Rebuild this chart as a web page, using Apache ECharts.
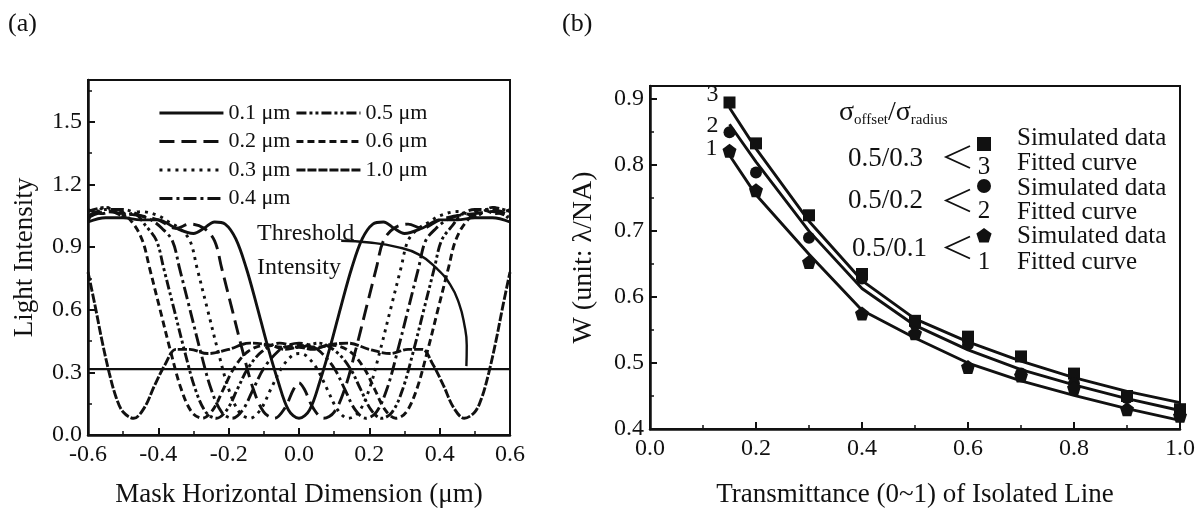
<!DOCTYPE html>
<html><head><meta charset="utf-8">
<script src="https://cdn.jsdelivr.net/npm/echarts@6/dist/echarts.min.js"></script>
<style>html,body{margin:0;padding:0;background:#fff}#c{width:1198px;height:513px}</style>
</head><body><div id="c"></div>
<script>
// ---------- Panel (a) data: light intensity vs position ----------
const names_a = ['0.1 μm','0.2 μm','0.3 μm','0.4 μm','0.5 μm','0.6 μm','1.0 μm'];
const c01 = [[-0.6,1.02],[-0.55,1.04],[-0.5,1.04],[-0.45,1.03],[-0.4,1.03],[-0.35,0.99],[-0.3,0.965],[-0.27,0.99],[-0.24,1.02],[-0.21,1.01],[-0.18,0.94],[-0.15,0.8],[-0.12,0.62],[-0.09,0.43],[-0.06,0.26],[-0.03,0.12],[0,0.08],[0.03,0.12],[0.06,0.26],[0.09,0.43],[0.12,0.62],[0.15,0.8],[0.18,0.94],[0.21,1.01],[0.24,1.02],[0.27,0.99],[0.3,0.965],[0.35,0.99],[0.4,1.03],[0.45,1.03],[0.5,1.04],[0.55,1.04],[0.6,1.02]];
const c02 = [[-0.6,1.04],[-0.55,1.07],[-0.5,1.06],[-0.45,1.05],[-0.4,1.03],[-0.35,0.99],[-0.31,1.01],[-0.27,0.99],[-0.24,0.93],[-0.22,0.8],[-0.19,0.6],[-0.16,0.4],[-0.13,0.22],[-0.1,0.11],[-0.07,0.08],[-0.04,0.13],[-0.015,0.22],[0,0.25],[0.015,0.22],[0.04,0.13],[0.07,0.08],[0.1,0.11],[0.13,0.22],[0.16,0.4],[0.19,0.6],[0.22,0.8],[0.24,0.93],[0.27,0.99],[0.31,1.01],[0.35,0.99],[0.4,1.03],[0.45,1.05],[0.5,1.06],[0.55,1.07],[0.6,1.04]];
const c03 = [[-0.6,1.03],[-0.55,1.09],[-0.5,1.05],[-0.45,1.07],[-0.4,1.05],[-0.37,1.02],[-0.34,0.99],[-0.31,0.93],[-0.29,0.8],[-0.26,0.6],[-0.23,0.4],[-0.2,0.22],[-0.17,0.11],[-0.14,0.08],[-0.11,0.12],[-0.08,0.22],[-0.05,0.32],[-0.02,0.38],[0,0.39],[0.02,0.38],[0.05,0.32],[0.08,0.22],[0.11,0.12],[0.14,0.08],[0.17,0.11],[0.2,0.22],[0.23,0.4],[0.26,0.6],[0.29,0.8],[0.31,0.93],[0.34,0.99],[0.37,1.02],[0.4,1.05],[0.45,1.07],[0.5,1.05],[0.55,1.09],[0.6,1.03]];
const c04 = [[-0.6,1.05],[-0.55,1.08],[-0.5,1.08],[-0.45,1.05],[-0.42,1.03],[-0.39,0.99],[-0.36,0.93],[-0.34,0.8],[-0.31,0.6],[-0.28,0.4],[-0.25,0.22],[-0.22,0.11],[-0.19,0.08],[-0.16,0.12],[-0.13,0.22],[-0.1,0.32],[-0.06,0.4],[-0.03,0.43],[0,0.44],[0.03,0.43],[0.06,0.4],[0.1,0.32],[0.13,0.22],[0.16,0.12],[0.19,0.08],[0.22,0.11],[0.25,0.22],[0.28,0.4],[0.31,0.6],[0.34,0.8],[0.36,0.93],[0.39,0.99],[0.42,1.03],[0.45,1.05],[0.5,1.08],[0.55,1.08],[0.6,1.05]];
const c05 = [[-0.6,1.07],[-0.55,1.09],[-0.5,1.05],[-0.47,1.06],[-0.435,1.0],[-0.405,0.93],[-0.385,0.8],[-0.355,0.6],[-0.325,0.4],[-0.295,0.22],[-0.265,0.11],[-0.235,0.08],[-0.205,0.12],[-0.175,0.22],[-0.145,0.32],[-0.105,0.4],[-0.055,0.44],[0,0.42],[0.055,0.44],[0.105,0.4],[0.145,0.32],[0.175,0.22],[0.205,0.12],[0.235,0.08],[0.265,0.11],[0.295,0.22],[0.325,0.4],[0.355,0.6],[0.385,0.8],[0.405,0.93],[0.435,1.0],[0.47,1.06],[0.5,1.05],[0.55,1.09],[0.6,1.07]];
const c06 = [[-0.6,1.08],[-0.56,1.06],[-0.52,1.08],[-0.475,1.02],[-0.445,0.93],[-0.425,0.8],[-0.395,0.6],[-0.365,0.4],[-0.335,0.22],[-0.305,0.11],[-0.275,0.08],[-0.245,0.12],[-0.215,0.22],[-0.185,0.32],[-0.145,0.4],[-0.095,0.43],[-0.05,0.42],[0,0.43],[0.05,0.42],[0.095,0.43],[0.145,0.4],[0.185,0.32],[0.215,0.22],[0.245,0.12],[0.275,0.08],[0.305,0.11],[0.335,0.22],[0.365,0.4],[0.395,0.6],[0.425,0.8],[0.445,0.93],[0.475,1.02],[0.52,1.08],[0.56,1.06],[0.6,1.08]];
const c10 = [[-0.6,0.78],[-0.58,0.62],[-0.56,0.45],[-0.54,0.3],[-0.52,0.18],[-0.5,0.11],[-0.47,0.08],[-0.44,0.13],[-0.41,0.24],[-0.38,0.34],[-0.35,0.41],[-0.31,0.41],[-0.26,0.39],[-0.2,0.41],[-0.14,0.44],[-0.08,0.43],[-0.04,0.41],[0,0.42],[0.04,0.41],[0.08,0.43],[0.14,0.44],[0.2,0.41],[0.26,0.39],[0.31,0.41],[0.35,0.41],[0.38,0.34],[0.41,0.24],[0.44,0.13],[0.47,0.08],[0.5,0.11],[0.52,0.18],[0.54,0.3],[0.56,0.45],[0.58,0.62],[0.6,0.78]];
const thresholdLevel = [[-0.6,0.315],[0.6,0.315]];
const thresholdCurve = [[0.12,0.93],[0.2,0.922],[0.28,0.9],[0.34,0.865],[0.39,0.8],[0.43,0.72],[0.455,0.63],[0.47,0.53],[0.477,0.43],[0.476,0.33]];

// ---------- Panel (b) data: W vs transmittance ----------
const bx   = [0.15,0.2,0.3,0.4,0.5,0.6,0.7,0.8,0.9,1.0];
const sim3 = [0.895,0.833,0.724,0.635,0.564,0.540,0.510,0.484,0.450,0.430];
const sim2 = [0.850,0.789,0.690,0.628,0.559,0.528,0.484,0.469,0.447,0.428];
const sim1 = [0.822,0.762,0.653,0.575,0.545,0.494,0.481,0.462,0.430,0.420];
const fit3 = [0.887,0.825,0.715,0.625,0.567,0.532,0.503,0.478,0.457,0.440];
const fit2 = [0.862,0.805,0.700,0.613,0.557,0.520,0.490,0.467,0.446,0.428];
const fit1 = [0.815,0.755,0.665,0.580,0.538,0.500,0.473,0.451,0.431,0.413];
const curveTags = ['3','2','1'];

// ---------- build ----------
const FONT = 'Liberation Serif';
const K = '#111';
const curvesA = [c01,c02,c03,c04,c05,c06,c10];
const dashA = ['solid',[15,7],[3,5],[13,4,3,4],[10,3,3,3,3,3],[7,4],[9,2]];
const pair = (xs, ys) => xs.map((x,i)=>[x, ys[i]]);
const pentagon = 'path://M0,-1L0.951,-0.309L0.588,0.809L-0.588,0.809L-0.951,-0.309Z';

function axisCommon(){
  return {
    axisLine:{show:true,onZero:false,lineStyle:{color:K,width:2.5}},
    axisTick:{show:true,inside:true,length:7,lineStyle:{color:K,width:2}},
    minorTick:{show:true,splitNumber:2,length:4,lineStyle:{color:K,width:1.5}},
    splitLine:{show:false},
    axisLabel:{color:K,fontFamily:FONT,fontSize:24},
    nameTextStyle:{color:K,fontFamily:FONT,fontSize:27}
  };
}
const onStep = (v, step, lo, hi) => {
  const r = v/step; return Math.abs(r-Math.round(r))<1e-6 && v>=lo-1e-9 && v<=hi+1e-9;
};

const series = [];
curvesA.forEach((c,i)=>{
  series.push({name:names_a[i],type:'line',xAxisIndex:0,yAxisIndex:0,data:c,symbol:'none',smooth:0.35,
    itemStyle:{color:K},lineStyle:{color:K,width:2.9,type:dashA[i]},silent:true,z:3});
});
series.push({type:'line',xAxisIndex:0,yAxisIndex:0,data:thresholdLevel,symbol:'none',lineStyle:{color:K,width:2.2},silent:true});
series.push({type:'line',xAxisIndex:0,yAxisIndex:0,data:thresholdCurve,symbol:'none',smooth:true,lineStyle:{color:K,width:2.4},silent:true});

const fits = [fit3,fit2,fit1], sims = [sim3,sim2,sim1];
const syms = ['rect','circle',pentagon], symSz = [12,12,14];
const tagOffset = [[0,-8],[0,-6],[0,-2]];
fits.forEach((f,i)=>{
  series.push({type:'line',xAxisIndex:1,yAxisIndex:1,data:pair(bx,f),symbol:'none',lineStyle:{color:K,width:2.9},silent:true});
});
sims.forEach((s,i)=>{
  const d = pair(bx,s).map((p,j)=> j===0 ? {value:p,label:{show:true,formatter:curveTags[i],position:'left',distance:5,offset:tagOffset[i],color:K,fontFamily:FONT,fontSize:24}} : p);
  series.push({type:'scatter',xAxisIndex:1,yAxisIndex:1,data:d,symbol:syms[i],symbolSize:symSz[i],itemStyle:{color:K,opacity:1},silent:true,z:4});
});

const legendCommon = {orient:'vertical',itemWidth:64,itemHeight:14,itemGap:6.5,padding:0,
  itemStyle:{opacity:0},lineStyle:{width:2.9},
  textStyle:{color:K,fontFamily:FONT,fontSize:22,lineHeight:22},selectedMode:false};

const txt = (x,y,t,size,align) => ({type:'text',x:x,y:y,silent:true,
  style:{text:t,fill:K,font:size+'px "'+FONT+'"',textAlign:align||'left',textVerticalAlign:'middle',verticalAlign:'middle'}});
const bracket = (yc) => ({type:'polyline',silent:true,shape:{points:[[970,yc-11],[946,yc],[970,yc+11]]},style:{stroke:K,lineWidth:1.8,fill:null}});

const option = {
  animation:false,
  backgroundColor:'#fff',
  grid:[
    {left:88,top:80,width:422,height:368,show:true,borderColor:K,borderWidth:2,backgroundColor:'transparent'},
    {left:650,top:86,width:530,height:355,show:true,borderColor:K,borderWidth:2,backgroundColor:'transparent'}
  ],
  xAxis:[
    Object.assign(axisCommon(),{type:'value',gridIndex:0,min:-0.6,max:0.6,interval:0.2,
      name:'Mask Horizontal Dimension (μm)',nameLocation:'middle',nameGap:46,
      axisLabel:Object.assign(axisCommon().axisLabel,{margin:8,formatter:v=>v.toFixed(1)})}),
    Object.assign(axisCommon(),{type:'value',gridIndex:1,min:0,max:1,interval:0.2,
      name:'Transmittance (0~1) of Isolated Line',nameLocation:'middle',nameGap:52,
      axisLabel:Object.assign(axisCommon().axisLabel,{margin:8,formatter:v=>v.toFixed(1)})})
  ],
  yAxis:[
    Object.assign(axisCommon(),{type:'value',gridIndex:0,min:0,max:1.7,interval:0.3,
      name:'Light Intensity',nameLocation:'middle',nameGap:50,
      axisLabel:Object.assign(axisCommon().axisLabel,{margin:6,formatter:v=>onStep(v,0.3,0,1.5)?v.toFixed(1):''})}),
    Object.assign(axisCommon(),{type:'value',gridIndex:1,min:0.4,max:0.92,interval:0.1,
      name:'W (unit: λ/NA)',nameLocation:'middle',nameGap:52,
      nameTextStyle:{color:K,fontFamily:FONT,fontSize:28},
      axisLabel:Object.assign(axisCommon().axisLabel,{margin:6,formatter:v=>onStep(v,0.1,0.4,0.9)?v.toFixed(1):''})})
  ],
  legend:[
    Object.assign({},legendCommon,{left:158,top:102,data:names_a.slice(0,4)}),
    Object.assign({},legendCommon,{left:295,top:102,data:names_a.slice(4)})
  ],
  series:series,
  graphic:[
    txt(8,24,'(a)',26),
    txt(562,24,'(b)',26),
    {type:'text',x:257,y:217,silent:true,style:{text:'Threshold\nIntensity',fill:K,font:'24px "'+FONT+'"',lineHeight:34,textAlign:'left'}},
    {type:'text',x:839,y:113,silent:true,style:{text:'{s|σ}{b|offset}{s|/σ}{b|radius}',fill:K,textVerticalAlign:'middle',verticalAlign:'middle',
      rich:{s:{fontFamily:FONT,fontSize:28,fill:K},b:{fontFamily:FONT,fontSize:15,fill:K,padding:[14,0,0,0]}}}},
    txt(848,159,'0.5/0.3',27), txt(848,201,'0.5/0.2',27), txt(852,249,'0.5/0.1',27),
    bracket(157), bracket(200.5), bracket(247.5),
    {type:'rect',silent:true,shape:{x:977,y:137,width:14,height:14},style:{fill:K}},
    {type:'circle',silent:true,shape:{cx:984,cy:186,r:7},style:{fill:K}},
    {type:'polygon',silent:true,shape:{points:[[984,228],[991.6,233.5],[988.7,242.5],[979.3,242.5],[976.4,233.5]]},style:{fill:K}},
    txt(984,167,'3',25,'center'), txt(984,211,'2',25,'center'), txt(984,262,'1',25,'center'),
    txt(1017,138,'Simulated data',25), txt(1017,163,'Fitted curve',25),
    txt(1017,188,'Simulated data',25), txt(1017,212,'Fitted curve',25),
    txt(1017,236,'Simulated data',25), txt(1017,262,'Fitted curve',25)
  ]
};
const chart = echarts.init(document.getElementById('c'),null,{renderer:'canvas'});
chart.setOption(option);
</script></body></html>
